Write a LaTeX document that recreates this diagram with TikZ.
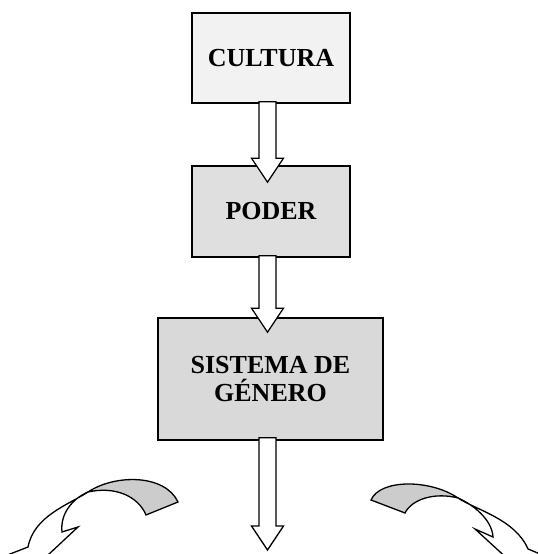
\documentclass[tikz,border=0pt]{standalone}
\usepackage{fontspec}
\setmainfont{Liberation Serif}
\usetikzlibrary{calc}
\definecolor{lightbox}{HTML}{F2F2F2}
\definecolor{midbox}{HTML}{DFDFDF}
\definecolor{darkbox}{HTML}{D9D9D9}
\definecolor{ribbon}{HTML}{CCCCCC}
\begin{document}
\begin{tikzpicture}[x=1bp,y=1bp,line join=miter,
  box/.style={draw,line width=1.6bp,inner sep=0pt,align=center,
    font=\fontsize{26bp}{28bp}\selectfont\bfseries},
  blockarrow/.style={draw,fill=white,line width=1.3bp,
    to path={let \p1=(\tikztostart), \p2=(\tikztotarget) in
      (\x1-8.5bp,\y1) -- (\x1-8.5bp,\y2+24bp) -- (\x1-16bp,\y2+24bp) -- (\x1,\y2)
      -- (\x1+16bp,\y2+24bp) -- (\x1+8.5bp,\y2+24bp) -- (\x1+8.5bp,\y1) -- cycle}},
  curl/.style={draw,line width=1.3bp},]
%%
\useasboundingbox (0,0) rectangle (538,554);
\clip (0,0) rectangle (538,554);
\node (cultura) at (271,496) [box,fill=lightbox,minimum width=158bp,minimum height=90bp] {CULTURA};
  \node (poder) at (271,342.5) [box,fill=midbox,minimum width=158bp,minimum height=91bp] {PODER};
  \node (genero) at (270.5,175) [box,fill=darkbox,minimum width=225bp,minimum height=122bp] {SISTEMA DE\\GÉNERO};
  \coordinate (bottom) at (267.5,4);
  \draw [blockarrow] ([xshift=-3.5bp,yshift=2bp]cultura.south) to ([xshift=-3.5bp,yshift=-17bp]poder.north);
  \draw [blockarrow] ([xshift=-3.5bp,yshift=2bp]poder.south) to ([xshift=-3.5bp,yshift=-15bp]genero.north);
  \draw [blockarrow] ([xshift=-3bp,yshift=3bp]genero.south) to (bottom);
%% left curl
  \draw [curl,fill=ribbon] (178,52) .. controls (165,80) and (115,80) .. (88,62)
    .. controls (115,68) and (138,58) .. (146,39) -- cycle;
  \draw [curl,fill=white] (88,62) .. controls (68,49) and (34,38) .. (28,7) -- (5,-2) -- (17,-30)
    -- (78,27) -- (62,22) .. controls (60,40) and (72,55) .. (88,62) -- cycle;
%% right curl
  \draw [curl,fill=ribbon] (371,54) .. controls (380,75) and (430,75) .. (458,56)
    .. controls (435,62) and (412,55) .. (405,41) -- cycle;
  \draw [curl,fill=white] (458,56) .. controls (476,44) and (515,35) .. (528,5) -- (545,-2) -- (535,-30)
    -- (475,25) -- (493,17) .. controls (492,35) and (472,50) .. (458,56) -- cycle;
%
\end{tikzpicture}
\end{document}
